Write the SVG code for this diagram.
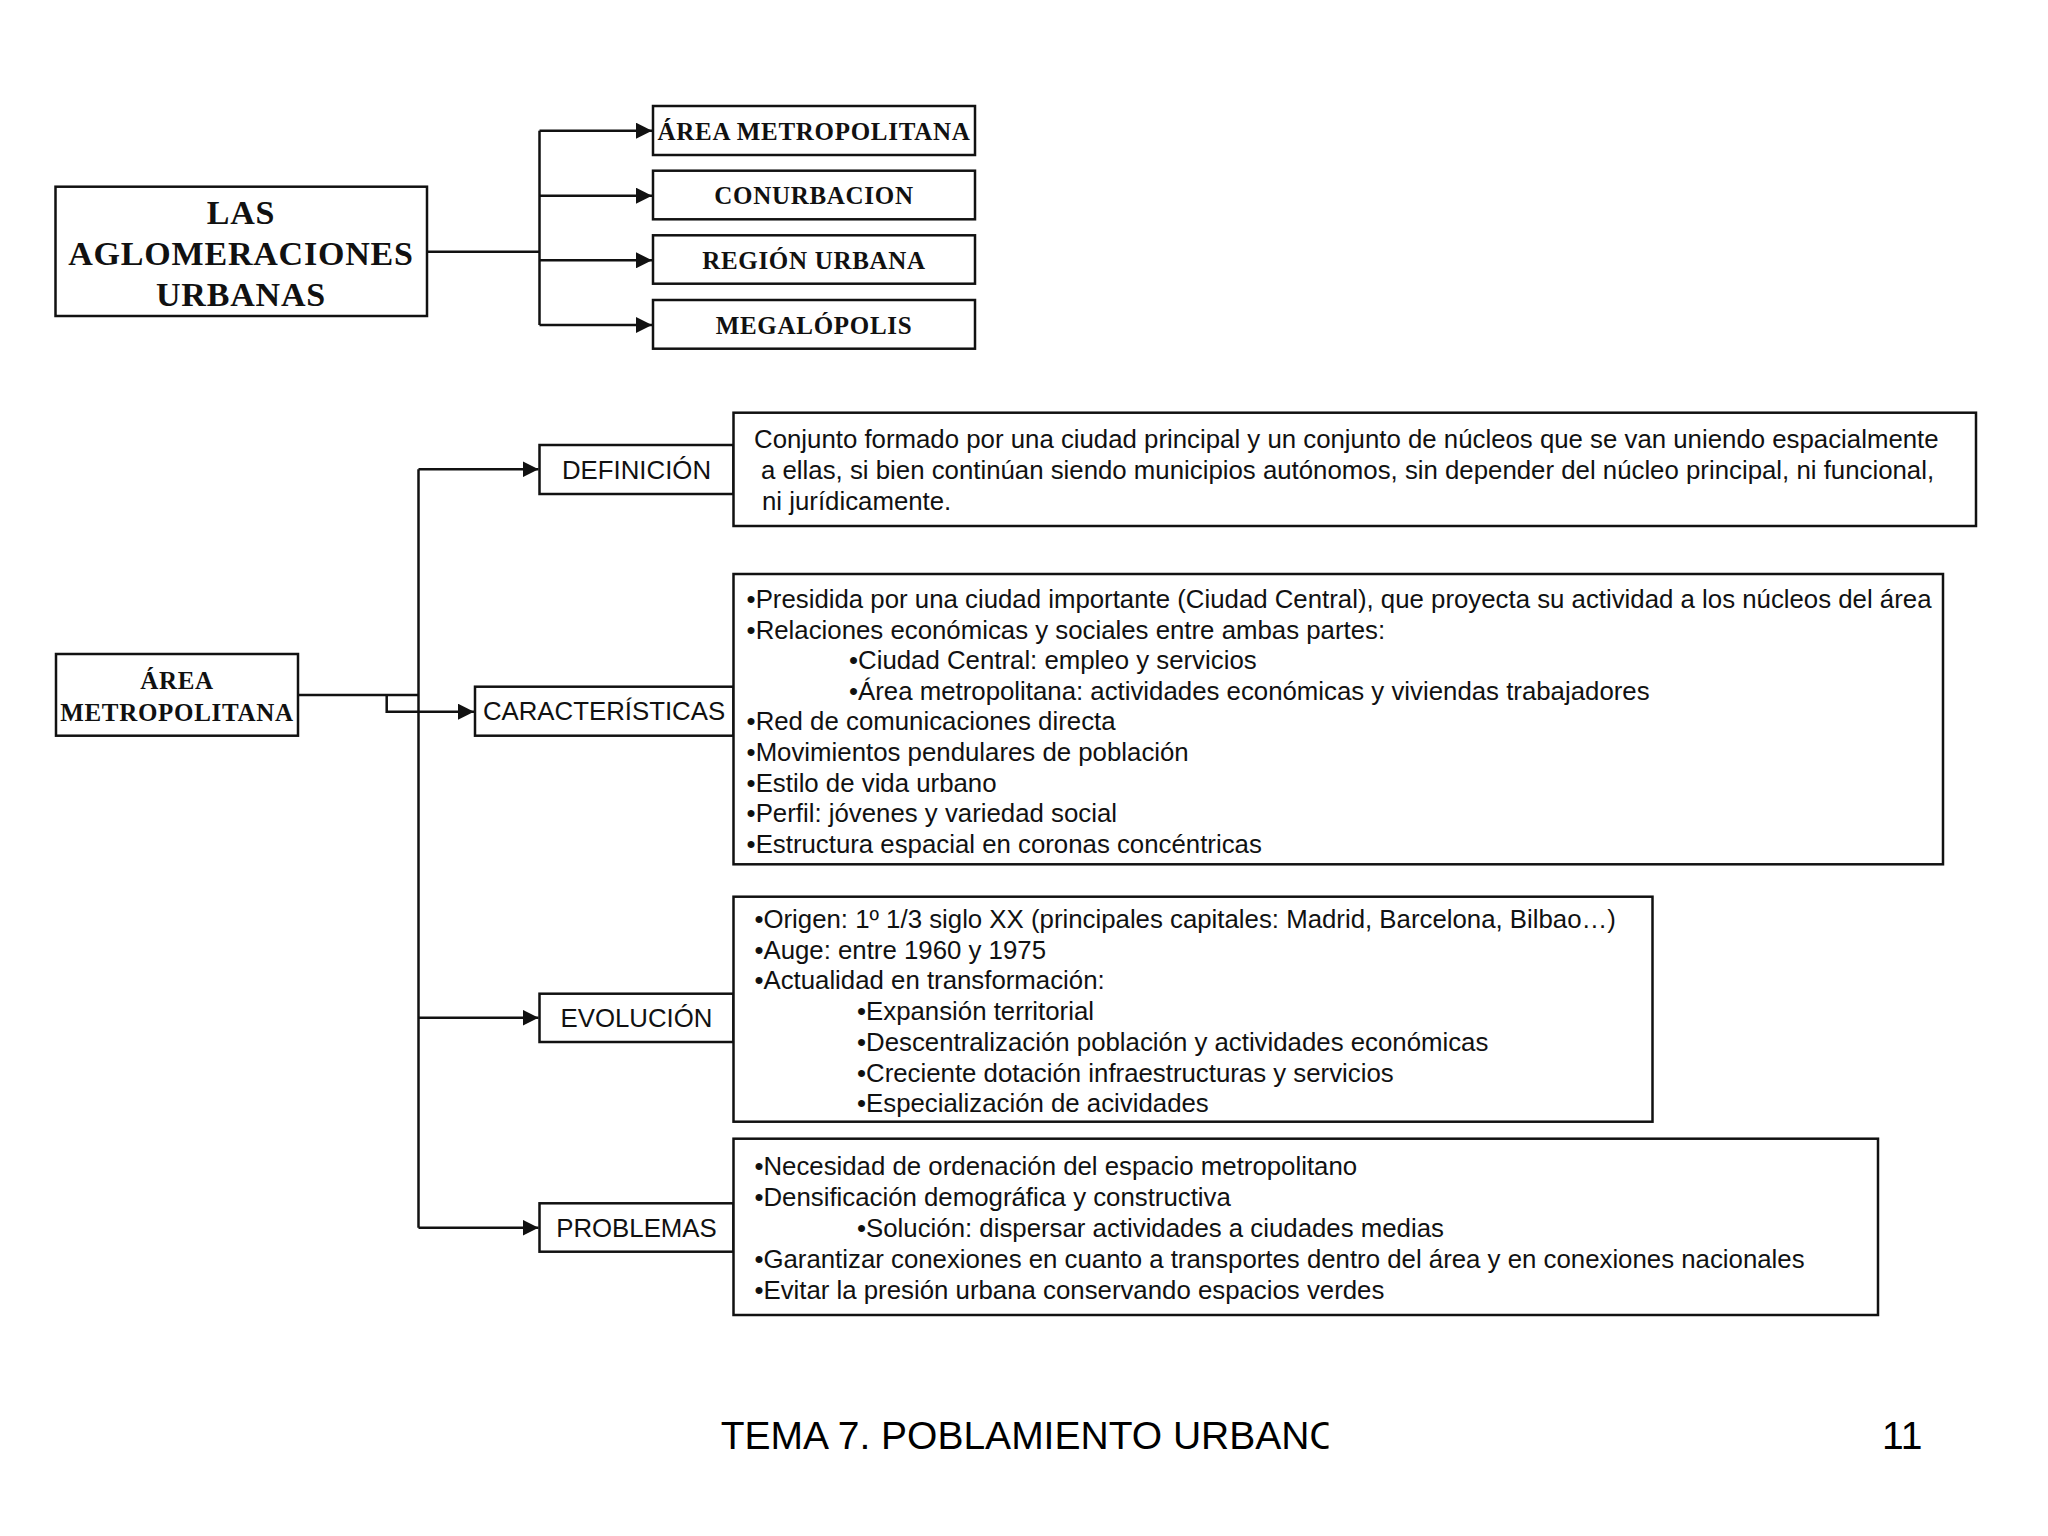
<svg xmlns="http://www.w3.org/2000/svg" width="2048" height="1536" viewBox="0 0 2048 1536">
<defs>
<style>
.box{fill:#fff;stroke:#111;stroke-width:2.5}
.conn{fill:none;stroke:#111;stroke-width:2.5}
.ser{font-family:"Liberation Serif","Times New Roman",serif;font-weight:bold;fill:#111;text-anchor:middle}
.big{font-size:34px;letter-spacing:0.8px}
.mid{font-size:25px;letter-spacing:0.7px}
.san{font-family:"Liberation Sans",Arial,sans-serif;font-size:25.8px;fill:#111}
.lab{text-anchor:middle}
.foot{font-family:"Liberation Sans",Arial,sans-serif;font-size:39px;fill:#000}
</style>
<marker id="arr" markerWidth="16" markerHeight="16" refX="16" refY="8" orient="auto" markerUnits="userSpaceOnUse">
<path d="M0,0 L16,8 L0,16 z" fill="#111"/>
</marker>
<clipPath id="fclip"><rect x="0" y="1380" width="1328.5" height="100"/></clipPath>
</defs>
<rect width="2048" height="1536" fill="#fff"/>

<g id="connectors">
<path class="conn" d="M427,251.7 H539.5"/>
<path class="conn" d="M539.5,130.7 V325"/>
<path class="conn" d="M539.5,130.7 H652" marker-end="url(#arr)"/>
<path class="conn" d="M539.5,195.7 H652" marker-end="url(#arr)"/>
<path class="conn" d="M539.5,260.3 H652" marker-end="url(#arr)"/>
<path class="conn" d="M539.5,325 H652" marker-end="url(#arr)"/>
<path class="conn" d="M298,695 H418.5"/>
<path class="conn" d="M418.5,469.3 V1227.7"/>
<path class="conn" d="M418.5,469.3 H538.5" marker-end="url(#arr)"/>
<path class="conn" d="M418.5,1017.7 H538.5" marker-end="url(#arr)"/>
<path class="conn" d="M418.5,1227.7 H538.5" marker-end="url(#arr)"/>
<path class="conn" d="M386.7,695 V711.7 H474" marker-end="url(#arr)"/>
</g>

<g id="n-aglomeraciones">
<rect class="box" x="55.5" y="186.7" width="371.5" height="129.3"/>
<text class="ser big" x="241" y="224.3">LAS</text>
<text class="ser big" x="241" y="265">AGLOMERACIONES</text>
<text class="ser big" x="241" y="306">URBANAS</text>
</g>
<g id="n-area-top">
<rect class="box" x="653" y="106" width="322" height="49"/>
<text class="ser mid" x="814" y="140">ÁREA METROPOLITANA</text>
</g>
<g id="n-conurbacion">
<rect class="box" x="653" y="170.7" width="322" height="48.6"/>
<text class="ser mid" x="814" y="204">CONURBACION</text>
</g>
<g id="n-region">
<rect class="box" x="653" y="235.3" width="322" height="48.4"/>
<text class="ser mid" x="814" y="268.5">REGIÓN URBANA</text>
</g>
<g id="n-megalopolis">
<rect class="box" x="653" y="300" width="322" height="48.7"/>
<text class="ser mid" x="814" y="333.5">MEGALÓPOLIS</text>
</g>

<g id="n-area">
<rect class="box" x="56" y="654" width="242" height="81.7"/>
<text class="ser mid" x="177" y="689">ÁREA</text>
<text class="ser mid" x="177" y="720.7">METROPOLITANA</text>
</g>

<g id="n-definicion">
<rect class="box" x="539.5" y="445" width="194" height="49"/>
<text class="san lab" x="636.5" y="478.5">DEFINICIÓN</text>
</g>
<g id="n-definicion-text">
<rect class="box" x="733.5" y="412.7" width="1242.5" height="113.3"/>
<text class="san" x="754" y="448">Conjunto formado por una ciudad principal y un conjunto de núcleos que se van uniendo espacialmente</text>
<text class="san" x="761" y="479">a ellas, si bien continúan siendo municipios autónomos, sin depender del núcleo principal, ni funcional,</text>
<text class="san" x="762" y="510">ni jurídicamente.</text>
</g>

<g id="n-caracteristicas">
<rect class="box" x="475" y="686.7" width="258.5" height="49"/>
<text class="san lab" x="604" y="720">CARACTERÍSTICAS</text>
</g>
<g id="n-caracteristicas-text">
<rect class="box" x="733.5" y="574" width="1209.5" height="290.3"/>
<text class="san" x="746.6" y="608">•Presidida por una ciudad importante (Ciudad Central), que proyecta su actividad a los núcleos del área</text>
<text class="san" x="746.6" y="638.6">•Relaciones económicas y sociales entre ambas partes:</text>
<text class="san" x="849" y="669.2">•Ciudad Central: empleo y servicios</text>
<text class="san" x="849" y="699.8">•Área metropolitana: actividades económicas y viviendas trabajadores</text>
<text class="san" x="746.6" y="730.4">•Red de comunicaciones directa</text>
<text class="san" x="746.6" y="761">•Movimientos pendulares de población</text>
<text class="san" x="746.6" y="791.6">•Estilo de vida urbano</text>
<text class="san" x="746.6" y="822.2">•Perfil: jóvenes y variedad social</text>
<text class="san" x="746.6" y="852.8">•Estructura espacial en coronas concéntricas</text>
</g>

<g id="n-evolucion">
<rect class="box" x="539.5" y="993.7" width="194" height="48.3"/>
<text class="san lab" x="636.5" y="1027">EVOLUCIÓN</text>
</g>
<g id="n-evolucion-text">
<rect class="box" x="733.5" y="896.7" width="919" height="225"/>
<text class="san" x="754.4" y="928">•Origen: 1º 1/3 siglo XX (principales capitales: Madrid, Barcelona, Bilbao…)</text>
<text class="san" x="754.4" y="958.7">•Auge: entre 1960 y 1975</text>
<text class="san" x="754.4" y="989">•Actualidad en transformación:</text>
<text class="san" x="857" y="1020">•Expansión territorial</text>
<text class="san" x="857" y="1051">•Descentralización población y actividades económicas</text>
<text class="san" x="857" y="1081.5">•Creciente dotación infraestructuras y servicios</text>
<text class="san" x="857" y="1112">•Especialización de acividades</text>
</g>

<g id="n-problemas">
<rect class="box" x="539.5" y="1203.3" width="194" height="48.4"/>
<text class="san lab" x="636.5" y="1236.5">PROBLEMAS</text>
</g>
<g id="n-problemas-text">
<rect class="box" x="733.5" y="1138.7" width="1144.5" height="176.3"/>
<text class="san" x="754.4" y="1175.3">•Necesidad de ordenación del espacio metropolitano</text>
<text class="san" x="754.4" y="1206.3">•Densificación demográfica y constructiva</text>
<text class="san" x="857" y="1237">•Solución: dispersar actividades a ciudades medias</text>
<text class="san" x="754.4" y="1268">•Garantizar conexiones en cuanto a transportes dentro del área y en conexiones nacionales</text>
<text class="san" x="754.4" y="1298.7">•Evitar la presión urbana conservando espacios verdes</text>
</g>

<g id="footer">
<text class="foot" x="720.7" y="1449.3" clip-path="url(#fclip)">TEMA 7. POBLAMIENTO URBANO</text>
<text class="foot" x="1882" y="1449.3">11</text>
</g>
</svg>
